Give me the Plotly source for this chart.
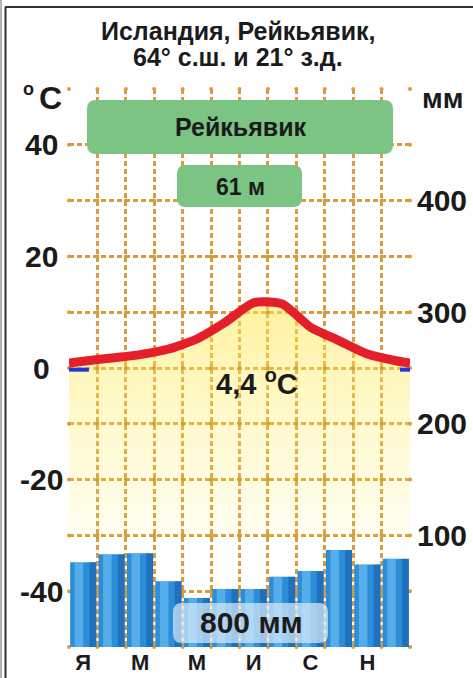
import plotly.graph_objects as go

# ---------------- data ----------------
label_months = [0, 2, 4, 6, 8, 10]
month_labels = ["Я", "М", "М", "И", "С", "Н"]
temps = [1.2, 1.8, 2.4, 3.4, 5.2, 8.2, 11.7, 11.5, 7.3, 4.9, 2.5, 1.3]   # °C
temp_year_edge = 0.9          # °C at the Dec/Jan boundary
cold_temp = -0.3              # °C, short sub-zero spells at the year edges
cold_spans = [(-0.5, 0.2), (11.15, 11.5)]
precip = [76, 83, 84, 59, 44, 52, 52, 63, 68, 87, 74, 79]              # mm
temp_ticks = [-40, -20, 0, 20, 40]
mm_ticks = [100, 200, 300, 400]
title_lines = ["Исландия, Рейкьявик,", "64° с.ш. и 21° з.д."]
station = "Рейкьявик"
elevation = "61 м"
mean_temp_text = "4,4 <sup>o</sup>C"
total_precip_text = "800 мм"

# ---------------- geometry helpers ----------------
W, H = 473, 678
L, R, T, B = 69, 410, 89, 647
def px_x(p):
    return (p - L) / (R - L)
def px_y(p):
    return (B - p) / (B - T)

FONT = "Liberation Sans"
TXT = "#1b1b1b"
GRID = "#d99c3c"
DASH = "5px,3px"
x_months = list(range(12))
x_bounds = [i - 0.5 for i in range(13)]
y_grid = list(range(-50, 51, 10))

fig = go.Figure()

# yellow gradient fill under temperature curve (translucent so the grid shows through)
line_x = [-0.5] + x_months + [11.5]
line_y = [temp_year_edge] + temps + [temp_year_edge]
fig.add_trace(go.Scatter(x=[-0.5, 11.5], y=[-30, -30], mode="lines",
                         line=dict(width=0, color="rgba(0,0,0,0)"),
                         hoverinfo="skip", showlegend=False))
fig.add_trace(go.Scatter(x=line_x, y=line_y, mode="lines",
                         line=dict(width=0, shape="spline", smoothing=0.6, color="rgba(0,0,0,0)"),
                         fill="tonexty",
                         fillgradient=dict(type="vertical", start=-30, stop=12,
                                           colorscale=[[0, "rgba(255,235,90,0.08)"],
                                                       [0.55, "rgba(255,235,90,0.33)"],
                                                       [1, "rgba(255,230,80,0.55)"]]),
                         hoverinfo="skip", showlegend=False))
# grid intersection dots
gx = [x for x in x_bounds for _ in y_grid]
gy = [y for _ in x_bounds for y in y_grid]
fig.add_trace(go.Scatter(x=gx, y=gy, mode="markers",
                         marker=dict(size=4, color=GRID, line=dict(width=0)),
                         hoverinfo="skip", showlegend=False, cliponaxis=False))
# sub-zero blue bits
for a, b in cold_spans:
    fig.add_trace(go.Scatter(x=[a, b], y=[cold_temp, cold_temp], mode="lines",
                             line=dict(width=4, color="#2038d8"),
                             hoverinfo="skip", showlegend=False))
# temperature line
fig.add_trace(go.Scatter(x=line_x, y=line_y, mode="lines",
                         line=dict(width=9, color="#e3202a", shape="spline", smoothing=0.6),
                         showlegend=False))

# precipitation bars (cylinder-like shading)
fig.add_trace(go.Bar(x=x_months, y=precip, yaxis="y2", width=0.92, offset=-0.46,
                     marker=dict(color="#2c8ed8", line=dict(width=0)), showlegend=False))
fig.add_trace(go.Bar(x=x_months, y=precip, yaxis="y2", width=0.30, offset=-0.30,
                     marker=dict(color="rgba(120,200,250,0.55)", line=dict(width=0)),
                     hoverinfo="skip", showlegend=False))
fig.add_trace(go.Bar(x=x_months, y=precip, yaxis="y2", width=0.24, offset=0.22,
                     marker=dict(color="rgba(15,75,160,0.45)", line=dict(width=0)),
                     hoverinfo="skip", showlegend=False))

fig.update_layout(
    width=W, height=H, autosize=False,
    margin=dict(l=L, r=W - R, t=T, b=H - B, autoexpand=False),
    paper_bgcolor="white", plot_bgcolor="white",
    barmode="overlay",
    font=dict(family=FONT, color=TXT),
    xaxis=dict(range=[-0.5, 11.5], tickmode="array", tickvals=label_months, ticktext=month_labels,
               showgrid=False, zeroline=False, showline=False, ticks="", automargin=False,
               tickfont=dict(size=22, weight="bold", color=TXT),
               minor=dict(tickmode="array", tickvals=x_bounds,
                          showgrid=True, gridcolor=GRID, griddash=DASH, gridwidth=2.5)),
    yaxis=dict(range=[-50, 50], tickmode="array", tickvals=temp_ticks, showticklabels=False,
               showgrid=True, gridcolor=GRID, griddash=DASH, gridwidth=2.5,
               zeroline=False, showline=False, ticks="", automargin=False,
               minor=dict(tickmode="array", tickvals=y_grid,
                          showgrid=True, gridcolor=GRID, griddash=DASH, gridwidth=2.5)),
    yaxis2=dict(range=[0, 500], overlaying="y", side="right", tickmode="array",
                tickvals=mm_ticks, showgrid=False, zeroline=False, showline=False, ticks="",
                ticklabelstandoff=6, automargin=False,
                tickfont=dict(size=30, weight="bold", color=TXT)),
)

def rounded(x0, x1, y0, y1, r=9):
    # pixel box -> rounded path in paper coordinates
    rx = r / (R - L)
    ry = r / (B - T)
    X0, X1, Y0, Y1 = px_x(x0), px_x(x1), px_y(y1), px_y(y0)
    return (f"M {X0+rx},{Y0} L {X1-rx},{Y0} Q {X1},{Y0} {X1},{Y0+ry} "
            f"L {X1},{Y1-ry} Q {X1},{Y1} {X1-rx},{Y1} L {X0+rx},{Y1} "
            f"Q {X0},{Y1} {X0},{Y1-ry} L {X0},{Y0+ry} Q {X0},{Y0} {X0+rx},{Y0} Z")

def pline(x0, y0, x1, y1, color, width):
    return dict(type="line", xref="paper", yref="paper", x0=px_x(x0), y0=px_y(y0),
                x1=px_x(x1), y1=px_y(y1), line=dict(color=color, width=width), layer="above")

shapes = [
    dict(type="path", xref="paper", yref="paper", path=rounded(87, 393, 100, 154),
         fillcolor="#7cc484", line=dict(width=0), layer="above"),
    dict(type="path", xref="paper", yref="paper", path=rounded(177, 302, 165, 207),
         fillcolor="#7cc484", line=dict(width=0), layer="above"),
    dict(type="path", xref="paper", yref="paper", path=rounded(173, 328, 603, 643),
         fillcolor="rgba(215,233,250,0.72)", line=dict(width=0), layer="above"),
    pline(1, 0, 1, 678, "#9a9a9a", 1.5),
    pline(5.5, 7, 5.5, 678, "#333333", 2),
    pline(5, 7, 473, 7, "#333333", 2),
]
fig.update_layout(shapes=shapes)

ann = []
def add_text(text, x, y, size, xanchor="center"):
    ann.append(dict(text=text, xref="paper", yref="paper", x=px_x(x), y=px_y(y),
                    xanchor=xanchor, yanchor="middle", showarrow=False,
                    font=dict(size=size, weight="bold", color=TXT, family=FONT)))

add_text(title_lines[0], 238, 31, 25)
add_text(title_lines[1], 238, 57, 25)
add_text("o", 28, 89, 18)
add_text("C", 50, 98, 32)
add_text("мм", 443, 98, 28)
add_text(station, 241, 127, 25)
add_text(elevation, 240, 187, 23)
add_text(mean_temp_text, 257, 382, 29)
add_text(total_precip_text, 251, 622, 30)
for t in temp_ticks:
    ann.append(dict(text=str(t), xref="paper", yref="y", x=px_x(41), y=t,
                    xanchor="center", yanchor="middle", showarrow=False,
                    font=dict(size=30, weight="bold", color=TXT, family=FONT)))
fig.update_layout(annotations=ann)

fig.write_html("out.html", config={"displayModeBar": False},
               post_script="document.body.style.margin='0';document.body.style.padding='0';"
                           "document.documentElement.style.overflow='hidden';")
